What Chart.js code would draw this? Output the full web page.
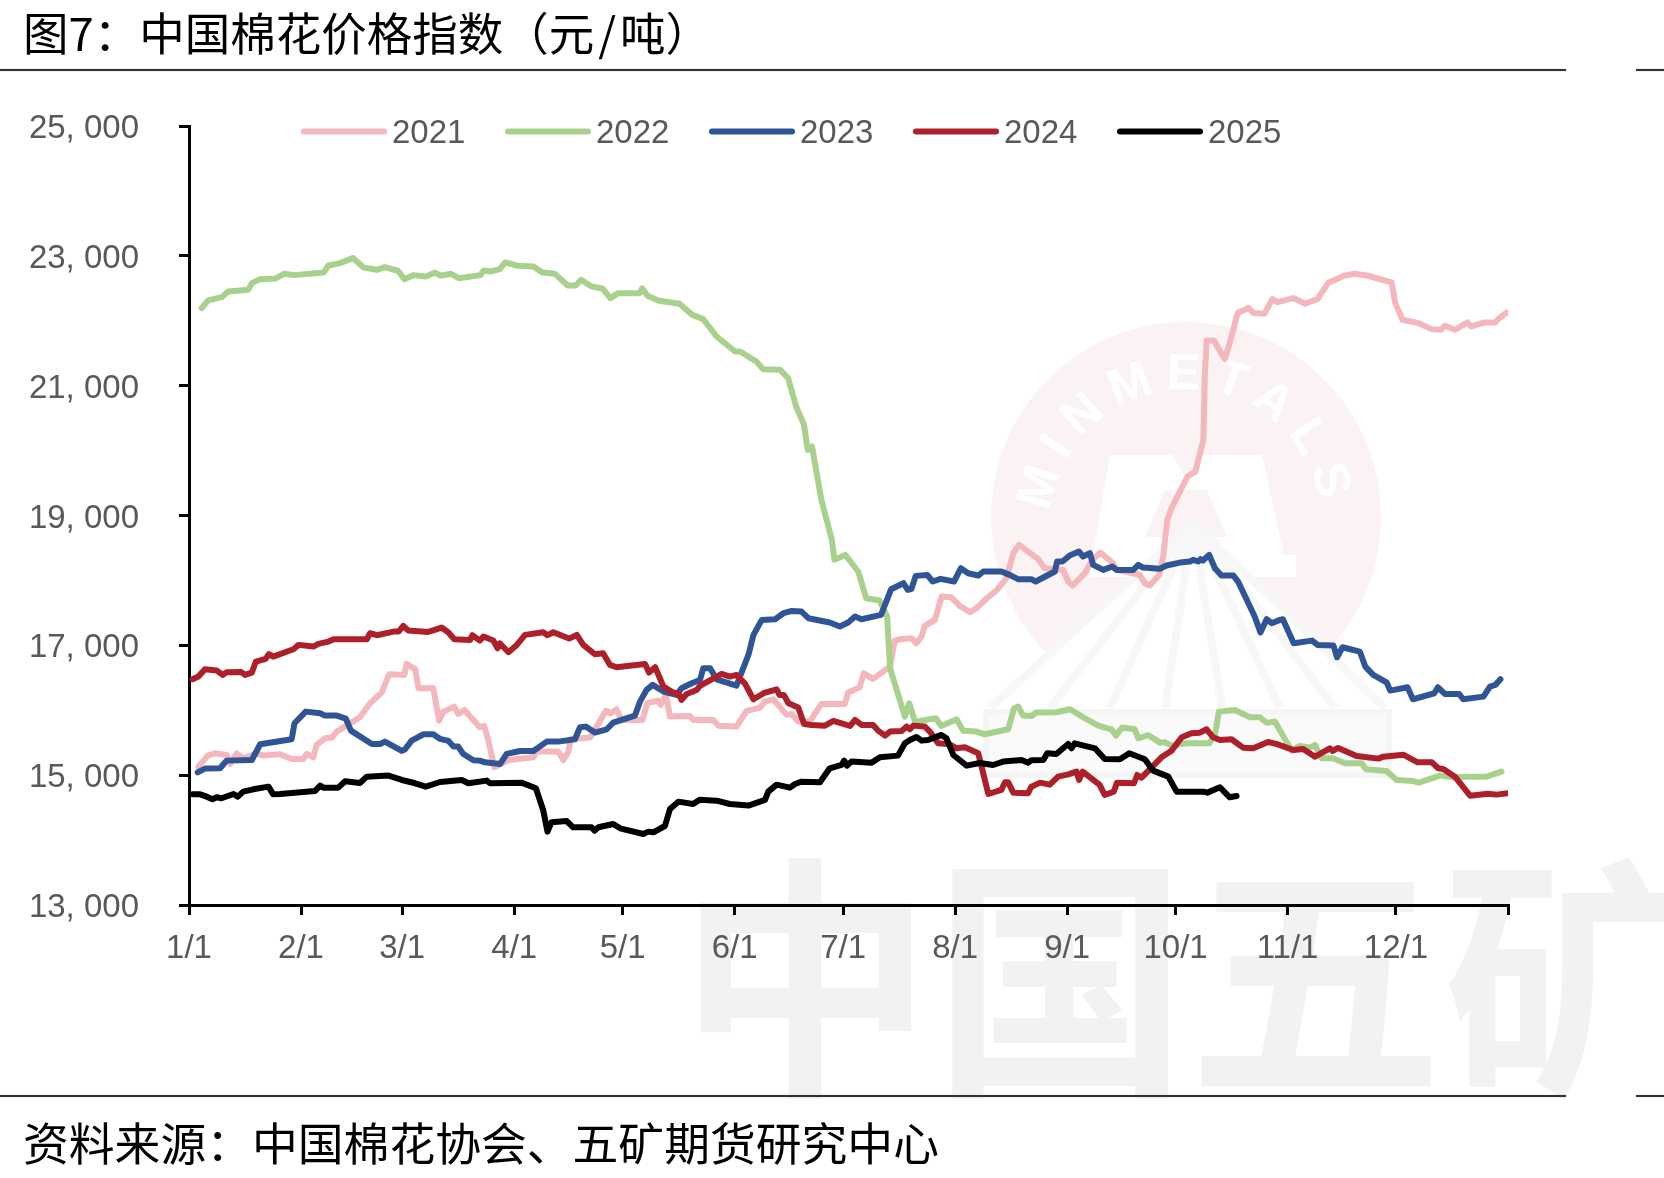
<!DOCTYPE html>
<html lang="zh-CN">
<head>
<meta charset="utf-8">
<title>中国棉花价格指数</title>
<script src="https://cdn.jsdelivr.net/npm/chart.js@4"></script>
<style>
    html, body { margin: 0; background: #fff; }
    #page { position: relative; width: 1664px; height: 1178px; overflow: hidden; font-family: "Noto Sans CJK SC", sans-serif; color: #000; }
    #page > * { position: absolute; }
    #mark { left: 0; top: 0; }
    #cotton { left: 0; top: 0; }
    .rule { height: 2px; background: #333; box-shadow: 0 0 1px #777; }
    .caption { left: 23px; line-height: 60px; white-space: nowrap; }
</style>
</head>
<body>
<div id="page">
    <!-- brand watermark behind the plot -->
    <svg id="mark" width="1664" height="1178">
        <circle cx="1186" cy="517" r="195" fill="#fbf3f3"/>
        <path d="M1110 455 L1172 455 L1186 478 L1200 455 L1262 455 L1284 555 L1296 555 L1296 577 L1089 577 Z" fill="#fff"/>
        <path d="M1165 490 L1207 490 L1227 537 L1145 537 Z" fill="#fbf3f3"/>
        <defs><path id="arc" d="M1050 525 A136 136 0 0 1 1322 525"/></defs>
        <text font-family="Liberation Sans" font-weight="700" font-size="50" fill="#fff" letter-spacing="12" text-anchor="middle">
            <textPath href="#arc" startOffset="50%">MINMETALS</textPath>
        </text>
        <path d="M1193 523 L986 710 L1389 710 Z" fill="#fff"/>
        <path d="M1193 523 L990 708 M1193 523 L1050 708 M1193 523 L1110 708 M1193 523 L1165 708 M1193 523 L1222 708 M1193 523 L1280 708 M1193 523 L1335 708 M1193 523 L1385 708" stroke="#f7f7f7" stroke-width="8" fill="none"/>
        <rect x="986" y="712" width="403" height="63" fill="#fafafa" stroke="#f5f5f5" stroke-width="6"/>
        <text x="678" y="1075" font-family="Noto Sans CJK SC" font-weight="700" font-size="255" fill="#f2f2f2">中国五矿</text>
    </svg>
    <canvas id="cotton" width="1664" height="1178"></canvas>
    <div class="caption" style="top:1px;font-size:45.5px">图7：中国棉花价格指数（元<span style="margin:0 4px">/</span>吨）</div>
    <div class="rule" style="left:0;top:69px;width:1566px"></div>
    <div class="rule" style="left:1636px;top:69px;width:28px"></div>
    <div class="rule" style="left:0;top:1095px;width:1566px"></div>
    <div class="rule" style="left:1636px;top:1095px;width:28px"></div>
    <div class="caption" style="top:1111px;font-size:45.8px">资料来源：中国棉花协会、五矿期货研究中心</div>
</div>
<script>
// X positions are days since 1 January
const monthStarts = [0, 31, 59, 90, 120, 151, 181, 212, 243, 273, 304, 334, 365];
const monthLabels = ['1/1', '2/1', '3/1', '4/1', '5/1', '6/1', '7/1', '8/1', '9/1', '10/1', '11/1', '12/1', ''];
const yTickLabels = ['13, 000', '15, 000', '17, 000', '19, 000', '21, 000', '23, 000', '25, 000'];

const years = ['2021', '2022', '2023', '2024', '2025'];
const colors = ['#f3b7bc', '#a9d18e', '#2f5597', '#ae2029', '#000000'];

// [day, 元/吨]
const prices2021 = [
    [2.6,15132],[5.2,15301],[7.2,15337],[10.4,15311],[11.4,15173],[13.2,15337],[15,15260],[18.7,15337],[20.6,15301],
    [25.2,15322],[28.4,15250],[31.6,15250],[32.6,15327],[34.4,15275],[35.3,15465],[37.6,15568],[39.5,15579],[40.9,15671],
    [47.3,15892],[50.1,16108],[53.3,16272],[55.4,16555],[59.6,16544],[60.2,16714],[62.6,16632],[63.5,16339],[67.6,16339],
    [69.2,15840],[70.4,15979],[73.4,16056],[74.5,15943],[76.2,16005],[80.5,15738],[81.7,15758],[82.8,15543],[84.5,15121],
    [88.4,15234],[95.3,15275],[96.2,15363],[102.2,15363],[103.6,15234],[105,15363],[105.6,15553],[111,15579],[112.8,15748],
    [115.4,15995],[116.7,15953],[118.3,16015],[119.7,15851],[125.5,15851],[126.8,16108],[129.9,16149],[130.5,16082],[132,16236],
    [133.1,15902],[138.6,15912],[139.6,15851],[145.1,15851],[146.5,15763],[151.5,15748],[154.3,15989],[158,16041],[159.4,16133],
    [161.7,16169],[165.4,15928],[166.8,15943],[168.6,15825],[171.8,15825],[175,16097],[181.5,16097],[182.4,16272],[185.6,16354],
    [186.7,16570],[189.3,16483],[194,16673],[195.3,17073],[196.7,17094],[199.9,17109],[201.3,17032],[202.7,17135],[203.6,17299],
    [206.4,17392],[208.3,17752],[210.9,17741],[213.3,17608],[216.1,17510],[217.9,17572],[221.1,17741],[223.4,17844],[226.2,18034],
    [228.1,18419],[229.7,18548],[235,18327],[236.8,18188],[241.9,18162],[243.3,17983],[244.5,17921],[247.9,18111],[250,18317],
    [252.2,18430],[255.7,18265],[256.7,18162],[263.1,18085],[264.5,17957],[265.9,17921],[268.5,18085],[269.6,18368],[270.7,18933],
    [271.9,19113],[276.3,19601],[278.5,19678],[280,20012],[280.7,20166],[281.1,21142],[281.6,21697],[283.6,21697],[286.6,21409],
    [288,21656],[290.2,22118],[293.2,22195],[294.6,22118],[297.6,22108],[299.8,22334],[301.2,22287],[305.7,22349],[308.9,22262],
    [312.3,22334],[315.2,22580],[319.6,22693],[322.5,22724],[326.2,22693],[332.8,22590],[333.8,22272],[335.8,22015],[340.2,21964],
    [343.8,21871],[346.5,21861],[347.5,21923],[350.4,21861],[353.7,21974],[354.8,21913],[358.5,21974],[361.5,21974],[362.6,22041],[364.7,22128]
];
const prices2022 = [
    [3.5,22194],[5.3,22313],[9.1,22364],[10.8,22451],[16.4,22477],[17.4,22580],[19.7,22641],[24,22651],[26.3,22723],[29.2,22703],
    [37.3,22744],[38.5,22847],[41.7,22888],[45.4,22965],[48.3,22821],[52,22785],[54.2,22826],[57.8,22770],[59.6,22641],[62.2,22703],
    [65.5,22682],[68.1,22744],[69.6,22693],[72.5,22723],[74.7,22656],[80.6,22703],[81.6,22775],[83.5,22759],[86,22795],[87.5,22898],
    [90.9,22847],[95.3,22836],[97.8,22744],[101.2,22723],[104.8,22543],[107,22543],[108.5,22631],[111.4,22528],[114.4,22497],
    [116.6,22348],[118.8,22425],[124.7,22425],[125.4,22497],[126.9,22384],[129.8,22312],[132,22292],[135.7,22261],[139.3,22091],
    [142.3,22025],[146,21758],[151.1,21526],[152.5,21526],[157,21372],[158.9,21254],[163.6,21244],[165.8,21115],[168,20679],
    [170.2,20396],[171.2,20011],[172.4,20063],[175,19240],[177.9,18625],[178.6,18317],[181.6,18393],[185.2,18137],[187.4,17726],
    [191.1,17690],[193.2,17443],[194,16647],[198.1,15902],[199.3,16108],[200.9,15825],[206.7,15876],[208.2,15758],[212.4,15861],
    [214.2,15686],[217.9,15671],[220.2,15630],[226.7,15707],[228.3,16030],[229.5,16056],[230.8,15918],[233.1,15912],[234.5,15964],
    [240,15969],[243.8,16015],[247.9,15877],[251.6,15763],[255.3,15707],[256.5,15609],[258.2,15733],[261.7,15707],[262.7,15568],
    [265.4,15619],[268.7,15501],[270,15506],[271.9,15455],[276,15491],[282.3,15491],[283.9,15619],[285,15979],[289.4,16005],
    [293.6,15892],[296.3,15892],[298.2,15809],[300.5,15825],[305.1,15378],[307.4,15450],[310.2,15424],[311.6,15465],[313.4,15260],
    [316.6,15260],[319.9,15183],[324.5,15183],[325.7,15090],[331.4,15065],[334.2,14926],[338.8,14910],[340.3,14885],[346.2,14993],
    [349.9,14967],[353.5,14977],[359.1,14977],[363.2,15054]
];
const prices2023 = [
    [2.4,15044],[4.4,15101],[8.6,15106],[10.4,15224],[17.4,15234],[19.7,15476],[28.4,15553],[29.2,15799],[32.3,15979],[36.3,15954],
    [37.6,15918],[40.9,15918],[43.4,15871],[44.8,15686],[50.6,15481],[52.9,15481],[54.2,15517],[58.9,15373],[59.8,15399],[61.6,15532],
    [64.9,15630],[67.6,15630],[69.5,15558],[71.8,15527],[73.2,15440],[74.5,15440],[75.9,15327],[78.7,15229],[80.5,15224],[81.9,15198],
    [86.1,15173],[87.9,15327],[91.6,15373],[95.3,15373],[99,15517],[102.2,15517],[106.8,15553],[108.2,15738],[109.8,15748],[112.3,15656],
    [115.6,15707],[117.4,15810],[123.4,15918],[124.8,16133],[126.6,16313],[128.3,16390],[131.3,16288],[134.9,16236],[136.3,16339],
    [139.1,16416],[141.4,16467],[142.3,16647],[144.2,16647],[146,16477],[151.5,16380],[154.8,16852],[156.2,17161],[158.5,17392],
    [162.2,17402],[164.5,17495],[166.8,17530],[169.5,17520],[171.4,17418],[177.3,17351],[180.1,17289],[182.4,17351],[184.3,17443],
    [186.1,17402],[191.5,17469],[194.3,17865],[197.7,17957],[198.9,17854],[199.9,17865],[201.1,18070],[204.3,18085],[205.8,17983],
    [208,18024],[211.7,17983],[213.6,18188],[215.6,18111],[218.4,18075],[219.8,18137],[224.8,18137],[227.1,18085],[229.4,18019],
    [233.1,18019],[234.3,17983],[239.6,18137],[240.2,18291],[241.7,18291],[243.7,18383],[246.3,18445],[247.4,18368],[249.3,18419],
    [250.2,18240],[253,18162],[255.5,18214],[256.7,18162],[261.3,18162],[262.7,18240],[264,18198],[268.6,18178],[270.5,18229],
    [274.2,18275],[277,18291],[277.9,18317],[279.3,18291],[279.9,18327],[280.6,18306],[282.3,18394],[283.9,18188],[285.7,18075],
    [289,18075],[290.3,17983],[294.9,17443],[296.5,17197],[298.2,17402],[299.6,17341],[301.9,17392],[302.7,17402],[305.7,17032],
    [310.8,17073],[312.3,17007],[316.7,16996],[317.7,16816],[319.2,16971],[324,16904],[325.5,16673],[327.7,16544],[331.4,16431],
    [332.4,16303],[337.2,16354],[338.7,16169],[344.6,16262],[345.6,16354],[347.5,16251],[351.5,16251],[352.6,16169],[358.2,16210],
    [360,16364],[361.5,16390],[362.9,16478]
];
const prices2024 = [
    [1,16478],[2.6,16519],[4.4,16632],[7.7,16611],[9.3,16544],[10.4,16585],[14.4,16590],[15.5,16544],[17.4,16580],[18.5,16750],
    [21.2,16791],[22.1,16863],[23.3,16827],[28.9,16940],[30.3,17007],[34.4,16981],[35.8,17022],[38.6,17058],[40,17094],[49.2,17094],
    [50.1,17186],[52,17156],[56.6,17212],[58,17212],[59.3,17299],[60.7,17227],[66.2,17207],[69.9,17274],[71.8,17197],[73.4,17094],
    [77.8,17084],[78.4,17156],[80.5,17073],[81.5,17135],[84.2,17073],[85.4,16955],[86,17032],[88.4,16894],[90.7,17007],[93,17161],
    [98,17202],[99.2,17156],[100.8,17202],[105.2,17104],[107.3,17161],[109.1,17007],[112.3,16863],[114.6,16878],[116.5,16698],
    [118.3,16662],[126.2,16714],[127.3,16580],[129,16662],[131.3,16364],[134,16272],[135.4,16262],[136.3,16159],[137.7,16251],
    [140.5,16313],[141.4,16375],[147.4,16560],[149.7,16519],[151.5,16544],[153.9,16406],[156.2,16169],[159,16262],[162.6,16323],
    [163.4,16236],[164.6,16236],[165.9,16108],[168.6,16041],[170.2,15789],[172.3,15774],[176,15763],[178.3,15835],[182.9,15758],
    [184.3,15851],[186.1,15774],[189.3,15774],[190.7,15686],[192.6,15609],[194,15671],[197.2,15681],[198.6,15748],[199.5,15707],
    [200.4,15763],[203.6,15748],[205,15671],[207.3,15491],[210.5,15476],[212.4,15414],[214.7,15430],[218.4,15337],[221.2,14710],
    [224.8,14772],[225.8,14890],[226.7,14890],[228.1,14731],[232.2,14721],[233.1,14823],[235.5,14885],[238.2,14854],[240.5,14977],
    [243.3,15013],[245.6,15054],[246.3,14926],[247.3,15054],[252,14849],[253.4,14695],[255.9,14746],[256.8,14885],[261.5,14875],
    [262.4,15003],[263.6,14962],[269.1,15275],[271.9,15378],[274.7,15583],[277.4,15645],[279.7,15655],[281.6,15707],[283.4,15583],
    [285.3,15542],[288.5,15553],[291.7,15424],[294.5,15414],[298.6,15511],[300.9,15481],[305.6,15388],[308.3,15404],[311.6,15285],
    [315.7,15414],[316.5,15373],[318,15419],[323.1,15296],[329.1,15255],[330.5,15285],[336,15316],[340,15198],[343.9,15198],[345.7,15106],
    [347.1,15095],[350.3,14977],[354.5,14684],[359.5,14715],[361.8,14700],[365,14720]
];
const prices2025 = [
    [1,14705],[3.1,14705],[4.9,14669],[6.5,14628],[7.7,14659],[9,14644],[12.3,14710],[13.5,14669],[15,14746],[17.8,14782],[22,14823],
    [23.3,14705],[25.2,14710],[34.9,14757],[36.3,14839],[37.2,14808],[41.3,14808],[43.2,14906],[47.3,14880],[49.2,14977],[55.2,14993],
    [58.9,14926],[62.6,14875],[65.5,14823],[69.5,14895],[75.5,14926],[77.3,14875],[82.4,14916],[83.3,14875],[92,14885],[96,14798],
    [98,14464],[99.2,14130],[100.3,14274],[104.5,14294],[106.3,14197],[111.4,14197],[112.2,14145],[113.3,14197],[117.4,14248],[119.3,14181],
    [125.7,14094],[127.1,14130],[128.5,14120],[131.7,14217],[133.1,14479],[135.4,14592],[139.5,14556],[141.4,14623],[146,14607],[149.7,14556],
    [154.8,14531],[159.4,14618],[160.3,14746],[162.6,14854],[166.3,14808],[167.7,14864],[169.5,14900],[174.6,14892],[177.3,15106],[180.6,15157],
    [181.3,15224],[182.1,15147],[183.3,15209],[188.9,15193],[191.2,15275],[196.2,15301],[198.1,15491],[199.5,15542],[201.3,15589],[202.7,15532],
    [204.5,15542],[208.2,15620],[209.6,15568],[211.5,15311],[215.2,15147],[218.8,15188],[222.5,15157],[225.3,15209],[230.4,15234],[232.2,15193],
    [233.1,15229],[236.4,15234],[237.5,15337],[240,15327],[243.3,15481],[244.2,15414],[245.1,15491],[250.7,15414],[253.4,15250],[257.6,15245],
    [260.2,15337],[264.5,15244],[266.8,15070],[271,14977],[273.3,14746],[280.7,14746],[281.8,14731],[285.3,14813],[288,14659],[289.9,14679]
];

const yearPrices = [prices2021, prices2022, prices2023, prices2024, prices2025];

// Legend row above the curves: long rounded strokes followed by the year
const legendRow = {
    id: 'legendRow',
    afterLayout(chart) {
        // nudge the value labels a little below their tick marks
        chart.scales.y.getLabelItems().forEach(item => { item.textOffset += 3; });
    },
    afterDraw(chart) {
        const ctx = chart.ctx;
        ctx.save();
        ctx.font = '33px "Liberation Sans"';
        ctx.textBaseline = 'middle';
        chart.data.datasets.forEach((ds, i) => {
            const x = 304 + i * 204;
            ctx.strokeStyle = ds.borderColor;
            ctx.lineWidth = 6;
            ctx.lineCap = 'round';
            ctx.beginPath();
            ctx.moveTo(x, 131.5);
            ctx.lineTo(x + 80, 131.5);
            ctx.stroke();
            ctx.fillStyle = '#595959';
            ctx.fillText(ds.label, x + 88, 134);
        });
        ctx.restore();
    }
};

const ctx = document.getElementById('cotton').getContext('2d');
const cottonChart = new Chart(ctx, {
    type: 'line',
    data: {
        datasets: years.map((year, i) => ({
            label: year,
            data: yearPrices[i].map(p => ({ x: p[0], y: p[1] })),
            borderColor: colors[i],
            borderWidth: 6,
            borderJoinStyle: 'round',
            borderCapStyle: 'round',
            pointRadius: 0,
            tension: 0,
            order: years.length - i // later years sit on top
        }))
    },
    options: {
        responsive: false,
        animation: false,
        layout: { padding: { top: 126, right: 156, bottom: 173, left: 0 } },
        plugins: { legend: { display: false }, tooltip: { enabled: false } },
        scales: {
            x: {
                type: 'linear',
                min: 0,
                max: 365,
                afterBuildTicks: scale => { scale.ticks = monthStarts.map(v => ({ value: v })); },
                afterFit: scale => { scale.height = 100; },
                grid: { drawOnChartArea: false, color: '#000', lineWidth: 3, tickLength: 10 },
                border: { color: '#000', width: 3 },
                ticks: {
                    autoSkip: false,
                    maxRotation: 0,
                    padding: 14,
                    color: '#595959',
                    font: { size: 33, family: '"Liberation Sans"' },
                    callback: (value, index) => monthLabels[index]
                }
            },
            y: {
                min: 13000,
                max: 25000,
                afterFit: scale => { scale.width = 189; },
                grid: { drawOnChartArea: false, color: '#000', lineWidth: 3, tickLength: 10 },
                border: { color: '#000', width: 3 },
                ticks: {
                    stepSize: 2000,
                    padding: 40,
                    color: '#595959',
                    font: { size: 33, family: '"Liberation Sans"' },
                    callback: (value, index) => yTickLabels[index]
                }
            }
        }
    },
    plugins: [legendRow]
});
</script>
</body>
</html>
